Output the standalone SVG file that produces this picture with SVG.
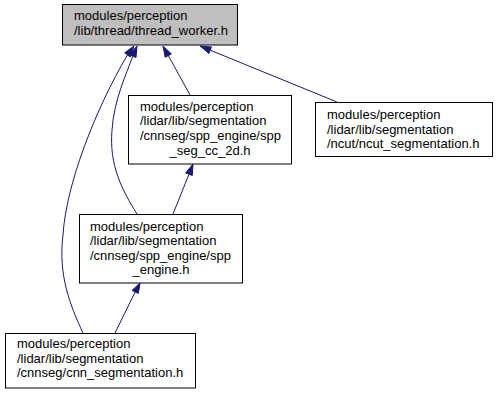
<svg xmlns="http://www.w3.org/2000/svg" width="497" height="393" viewBox="0 0 497 393">
  <style>
    .node rect { fill: #ffffff; stroke: #000000; stroke-width: 1; }
    .node.root rect { fill: #bfbfbf; }
    .node text { font-family: "Liberation Sans", Arial, sans-serif; font-size: 13px; fill: #000000; }
    .node text.c { text-anchor: middle; }
    .edge path { fill: none; stroke: #191970; stroke-width: 1; }
    .edge polygon { fill: #191970; stroke: #191970; stroke-width: 1; }
  </style>
  <rect width="497" height="393" fill="#ffffff"/>

  <g id="edges">
    <!-- spp_seg_cc_2d.h -> thread_worker.h -->
    <g class="edge" id="edge_spp_seg_cc_2d">
      <path d="M190,95 L168.3,55.6"/>
      <polygon points="163,46 171.4,53.9 165.2,57.3"/>
    </g>
    <!-- ncut_segmentation.h -> thread_worker.h -->
    <g class="edge" id="edge_ncut">
      <path d="M337,102 L210.2,50.2"/>
      <polygon points="200,46 211.5,47 208.9,53.4"/>
    </g>
    <!-- spp_engine.h -> thread_worker.h -->
    <g class="edge" id="edge_spp_engine_root">
      <path d="M137,214 C122,190 109,165 112,130 C114,100 126,75 132.8,56.2"/>
      <polygon points="137,46 136,57.5 129.5,54.8"/>
    </g>
    <!-- cnn_segmentation.h -> thread_worker.h -->
    <g class="edge" id="edge_cnn_root">
      <path d="M83,333 C70,305 58,275 63,235 C66,185 95,110 127.5,54.9"/>
      <polygon points="134,46 130.3,57 124.7,52.8"/>
    </g>
    <!-- spp_engine.h -> spp_seg_cc_2d.h -->
    <g class="edge" id="edge_spp_engine_seg">
      <path d="M173,214 L189,174.2"/>
      <polygon points="193,164 192.3,175.5 185.7,172.9"/>
    </g>
    <!-- cnn_segmentation.h -> spp_engine.h -->
    <g class="edge" id="edge_cnn_spp_engine">
      <path d="M115,333 L135.2,291.9"/>
      <polygon points="140,283 138.3,293.4 132,290.4"/>
    </g>
  </g>

  <g id="node_thread_worker" class="node root">
    <rect x="62.5" y="4.5" width="175" height="40.5"/>
    <text x="74" y="20">modules/perception</text>
    <text x="74" y="34.5">/lib/thread/thread_worker.h</text>
  </g>

  <g id="node_spp_seg_cc_2d" class="node">
    <rect x="128.5" y="95.5" width="163" height="68.5"/>
    <text x="140" y="110.5">modules/perception</text>
    <text x="140" y="125">/lidar/lib/segmentation</text>
    <text x="140" y="139.5">/cnnseg/spp_engine/spp</text>
    <text class="c" x="210" y="154.5">_seg_cc_2d.h</text>
  </g>

  <g id="node_ncut_segmentation" class="node">
    <rect x="315.5" y="102.5" width="177" height="54"/>
    <text x="327" y="119">modules/perception</text>
    <text x="327" y="133.5">/lidar/lib/segmentation</text>
    <text x="327" y="148">/ncut/ncut_segmentation.h</text>
  </g>

  <g id="node_spp_engine" class="node">
    <rect x="79.5" y="214.5" width="163" height="68.5"/>
    <text x="90" y="230.5">modules/perception</text>
    <text x="90" y="245">/lidar/lib/segmentation</text>
    <text x="90" y="259.5">/cnnseg/spp_engine/spp</text>
    <text class="c" x="161" y="274">_engine.h</text>
  </g>

  <g id="node_cnn_segmentation" class="node">
    <rect x="5.5" y="333.5" width="190" height="54.5"/>
    <text x="17" y="348">modules/perception</text>
    <text x="17" y="362.5">/lidar/lib/segmentation</text>
    <text x="17" y="377">/cnnseg/cnn_segmentation.h</text>
  </g>
</svg>
